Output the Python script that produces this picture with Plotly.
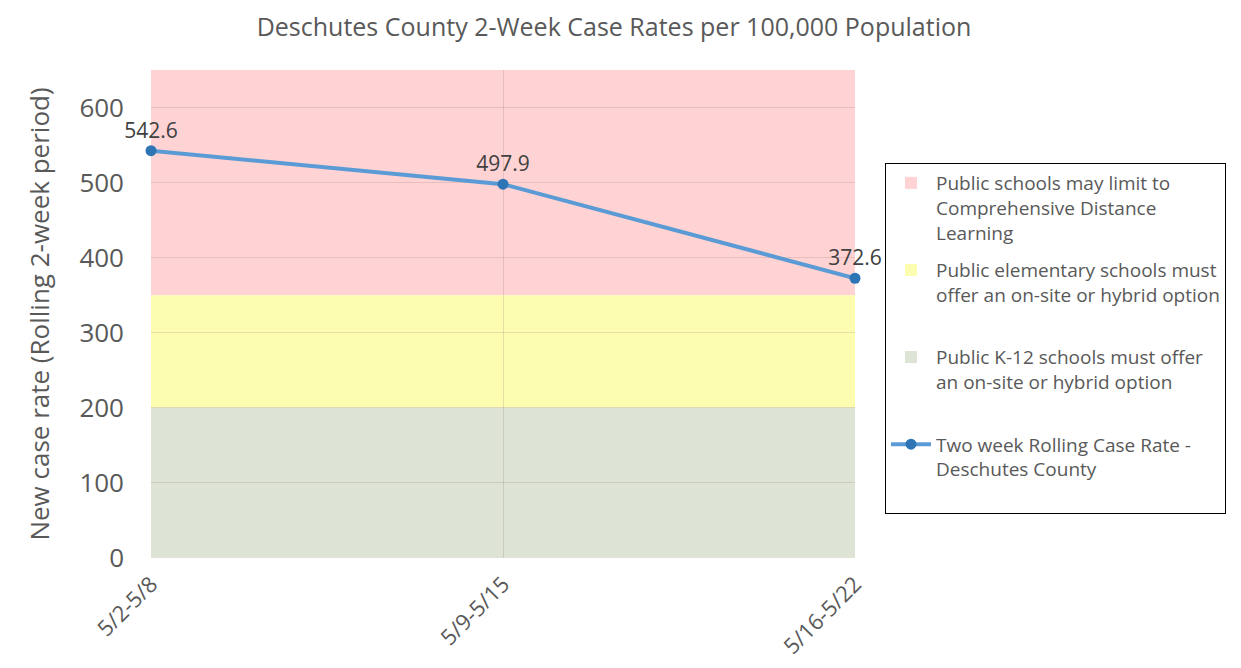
import plotly.graph_objects as go

categories = ["5/2-5/8", "5/9-5/15", "5/16-5/22"]
case_rates = [542.6, 497.9, 372.6]
band_names = [
    "Public schools may limit to<br>Comprehensive Distance<br>Learning",
    "Public elementary schools must<br>offer an on-site or hybrid option<br> ",
    "Public K-12 schools must offer<br>an on-site or hybrid option<br> ",
]
band_lower = [350, 200, 0]
band_upper = [650, 350, 200]
band_colors = ["#FFD3D4", "#FDFDB1", "#DDE3D5"]
line_name = "Two week Rolling Case Rate -<br>Deschutes County<br> "
y_ticks = [0, 100, 200, 300, 400, 500, 600]

xs = list(range(len(categories)))
fig = go.Figure()

for i, (nm, lo, hi, col) in enumerate(zip(band_names, band_lower, band_upper, band_colors)):
    fig.add_shape(type="rect", xref="x", yref="y", x0=xs[0], x1=xs[-1], y0=lo, y1=hi,
                  fillcolor=col, line=dict(width=0), layer="below",
                  showlegend=True, name=nm, legendgroup=f"g{i}", legendrank=i + 1)

fig.add_trace(go.Scatter(
    x=xs, y=case_rates, mode="lines+markers+text", name=line_name,
    legendgroup="g3", legendrank=4,
    line=dict(color="#5B9BD5", width=4),
    marker=dict(color="#2E75B6", size=11),
    text=[f"{v:.1f}" for v in case_rates], textposition="top center",
    textfont=dict(size=21, color="#404040"), cliponaxis=False,
))

fig.update_layout(
    width=1233, height=660,
    paper_bgcolor="white", plot_bgcolor="white",
    font=dict(family="Open Sans, Liberation Sans, sans-serif", color="#595959"),
    title=dict(text="Deschutes County 2-Week Case Rates per 100,000 Population",
               x=0.4915, xanchor="center", y=0.971, yanchor="middle",
               font=dict(size=25, color="#595959")),
    margin=dict(l=143, r=386, t=62, b=110, autoexpand=False),
    showlegend=True,
    legend=dict(x=1.0426, xanchor="left", y=0.8094, yanchor="top",
                bordercolor="black", borderwidth=1, bgcolor="white",
                font=dict(size=19, color="#595959"), tracegroupgap=10,
                itemwidth=40, valign="top"),
)
fig.update_xaxes(range=[xs[0], xs[-1]], tickvals=xs, ticktext=categories,
                 tickangle=-45, tickfont=dict(size=22, color="#595959"),
                 ticklabelstandoff=8,
                 showgrid=True, gridcolor="rgba(120,90,90,0.18)", gridwidth=1,
                 zeroline=False, showline=False, ticks="", ticklen=0)
fig.update_yaxes(range=[0, 650], tickvals=y_ticks,
                 tickfont=dict(size=26, color="#595959"),
                 ticklabelstandoff=26,
                 title=dict(text="New case rate (Rolling 2-week period)",
                            font=dict(size=26, color="#595959"), standoff=22),
                 showgrid=True, gridcolor="rgba(120,90,90,0.18)", gridwidth=1,
                 zeroline=False, showline=False, ticks="")

fig.write_html("out.html")
